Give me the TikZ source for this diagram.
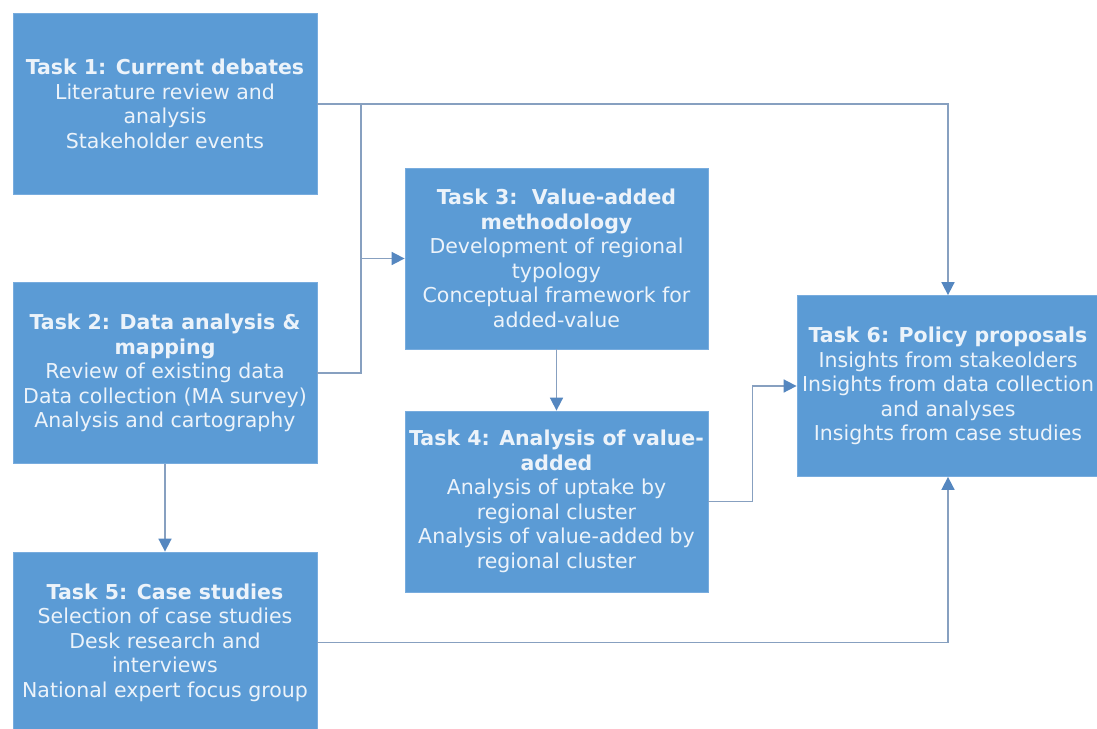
\documentclass[tikz,border=0pt]{standalone}
\usepackage{fontspec}
\setmainfont{DejaVu Sans}
\usetikzlibrary{arrows.meta}
\definecolor{boxblue}{RGB}{91,155,213}
\definecolor{boxedge}{RGB}{120,172,222}
\definecolor{txt}{RGB}{236,243,250}
\definecolor{linecol}{RGB}{135,160,192}
\definecolor{tipcol}{RGB}{85,135,192}
\tikzset{
  task/.style={fill=boxblue, draw=boxedge, line width=0.8pt, minimum width=304pt, minimum height=181pt,
    inner sep=0pt, align=center, text=txt, font=\fontsize{20.5}{24.5}\selectfont},
  conn/.style={draw=linecol, line width=1.7pt},
  arr/.style={conn, -{Triangle[length=13pt, width=13pt, color=tipcol, fill=tipcol]}}
}
\begin{document}
\begin{tikzpicture}[x=1pt, y=-1pt]
\clip (0,0) rectangle (1097,728);
\fill[white] (0,0) rectangle (1097,728);
\node[task] (t1) at (165,104) {\textbf{Task 1: Current debates}\\Literature review and\\analysis\\Stakeholder events};
\node[task] (t2) at (165,373) {\textbf{Task 2: Data analysis \&}\\\textbf{mapping}\\Review of existing data\\Data collection (MA survey)\\Analysis and cartography};
\node[task, minimum width=303pt] (t3) at (556.5,258.5) {\textbf{Task 3:\ \ Value-added}\\\textbf{methodology}\\Development of regional\\typology\\Conceptual framework for\\added-value};
\node[task, minimum width=303pt] (t4) at (556.5,501.5) {\textbf{Task 4: Analysis of value-}\\\textbf{added}\\Analysis of uptake by\\regional cluster\\Analysis of value-added by\\regional cluster};
\node[task] (t5) at (165,642.5) {\textbf{Task 5: Case studies}\\Selection of case studies\\Desk research and\\interviews\\National expert focus group};
\node[task, minimum width=302pt] (t6) at (948,386) {\textbf{Task 6: Policy proposals}\\Insights from stakeolders\\Insights from data collection\\and analyses\\Insights from case studies};
\coordinate (ja) at (361,104);
\draw[arr] (t1.east) -| (t6.north);
\draw[conn] (t2.east) -| (ja);
\draw[arr] (ja |- t3.west) -- (t3.west);
\draw[arr] (t2.south) -- (t5.north);
\draw[arr] (t3.south) -- (t4.north);
\draw[arr] (t4.east) -- ++(44,0) |- (t6.west);
\draw[arr] (t5.east) -| (t6.south);
\end{tikzpicture}
\end{document}
